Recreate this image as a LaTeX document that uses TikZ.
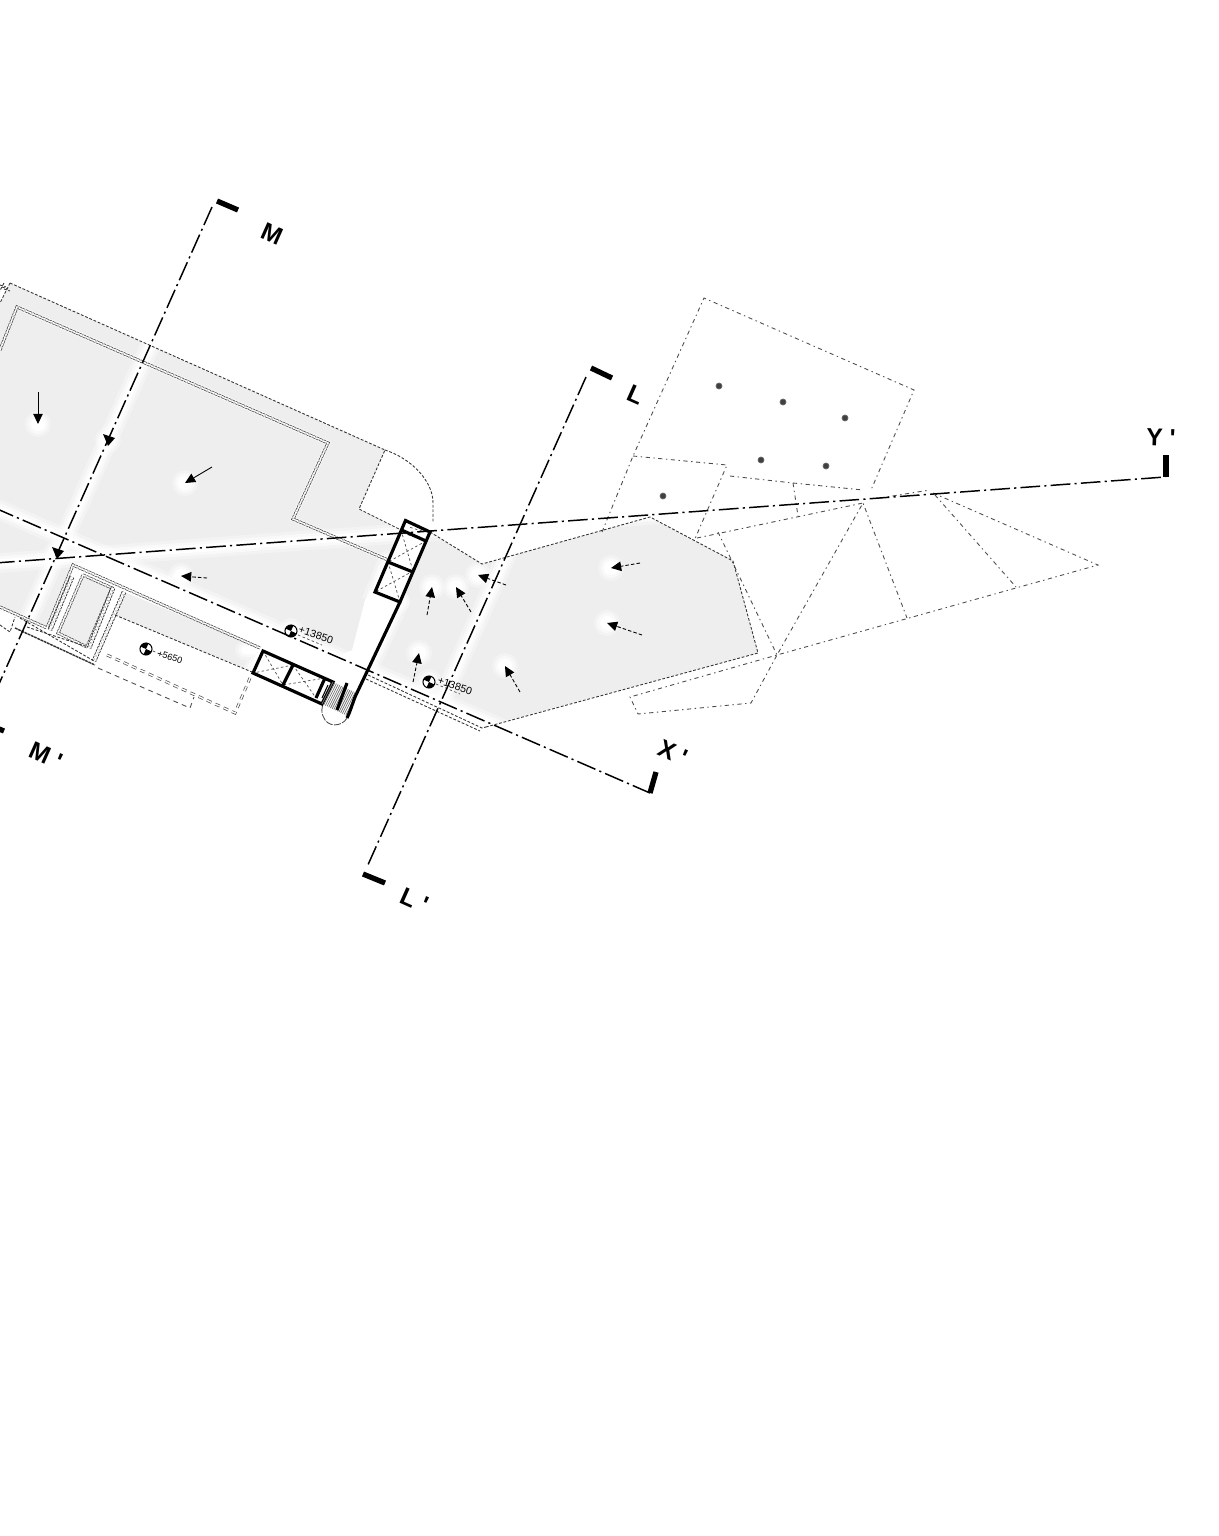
\documentclass[tikz,border=0pt]{standalone}
\usepackage{fontspec}
\setmainfont{Liberation Sans}
\usetikzlibrary{arrows.meta}
\definecolor{floorgrey}{HTML}{EEEEEE}
\tikzset{
    sectionline/.style={line width=.42pt, dash pattern=on 5.6pt off 1.2pt on .6pt off 1.2pt},
    sectionbar/.style={line width=1.5pt},
    sectionlabel/.style={font=\fontsize{7}{8}\selectfont\bfseries, inner sep=0pt, rotate=-24},
    outline/.style={draw=black!80, line width=.25pt, dash pattern=on .8pt off .5pt},
    dashedge/.style={draw=black!70, line width=.25pt, dash pattern=on 1.2pt off 1pt on .4pt off 1pt},
    wall/.style={draw=black!75, line width=.2pt, double=white, double distance=.45pt, dash pattern=on .8pt off .25pt},
    hatchwall/.style={draw=black!80, line width=.25pt, double=white, double distance=.8pt, dash pattern=on .7pt off .3pt},
    heavywall/.style={line width=.9pt, line join=miter},
    cellcross/.style={draw=black!70, line width=.2pt, dash pattern=on .7pt off .7pt},
    flowarrow/.style={line width=.25pt, dash pattern=on 1pt off .6pt, -{Triangle[length=2.9pt,width=2.7pt,sep=0pt]}},
    solidarrow/.style={line width=.25pt, -{Triangle[length=2.9pt,width=2.7pt,sep=0pt]}},
    levellabel/.style={font=\fontsize{3}{3.5}\selectfont, inner sep=0pt, rotate=-18},
    column/.style={fill=black!75, draw=black!60, line width=.2pt}
}
\newcommand{\glowline}[1]{
    \foreach \w/\o in {5.6/.35,3.8/.55,2.2/1} {\draw[white, line width=\w pt, line cap=round, opacity=\o] #1;}
}
\newcommand{\glowspot}[2]{
    \foreach \r/\o in {13/.3,10/.55,7/1} {\fill[white, opacity=\o] (#1,#2) circle[radius=\r];}
}
\newcommand{\levelmark}[2]{
    \begin{scope}[shift={(#1,#2)}, rotate=-24]
        \fill[white] (0,0) circle[radius=6.5];
        \draw[line width=.3pt] (0,0) circle[radius=6];
        \fill (0,0) -- (6,0) arc[start angle=0, end angle=90, radius=6] -- cycle;
        \fill (0,0) -- (-6,0) arc[start angle=180, end angle=270, radius=6] -- cycle;
    \end{scope}
}
\begin{document}
\begin{tikzpicture}[x=.01cm, y=-.01cm]
    \useasboundingbox (0,0) rectangle (1219,1536);
    \clip (0,0) rectangle (1219,1536);

    % grey floors
    \fill[floorgrey] (-5,312) -- (10,283) -- (385,450) -- (359,509) -- (405,532) -- (388,560) -- (365,600) -- (352,650) -- (340,655)
        -- (103,555) -- (72,565) -- (47,628) -- (-5,605) -- cycle;
    \fill[floorgrey] (124,592) -- (260,648) -- (252,672) -- (115,615) -- cycle;
    \fill[floorgrey] (83,575) -- (112,588) -- (87,647) -- (58,633) -- cycle;
    \fill[floorgrey] (430,533) -- (482,564) -- (650,517) -- (733,561) -- (758,653) -- (490,725) -- (368,675) -- (400,601) -- cycle;

    % soft edges
    \glowline{(215,200) -- (-20,727)}
    \glowline{(590,368) -- (365,873)}
    \glowline{(0,510) -- (650,793)}
    \glowline{(0,563) -- (1165,477)}
    \glowline{(400,601) -- (355,697)}
    \glowline{(388,560) -- (375,592) -- (400,602)}
    \glowline{(245,650) -- (262,651) -- (252,673)}
    \draw[white, line width=1.4pt, opacity=.6] (17,307) -- (328,443) -- (293,519) -- (388,560);
    \draw[white, line width=1.4pt, opacity=.6] (124,592) -- (94,661);
    \foreach \a/\b in {38/424, 108/440, 57/553, 185/483, 181/576, 291/631, 429/682, 432/587, 456/587, 478/575, 419/653, 505/666, 611/568, 607/623} {\glowspot{\a}{\b}}

    % outline of the block
    \coordinate (topA) at (10,283);
    \coordinate (topB) at (385,450);
    \coordinate (curveEnd) at (433,503);
    \coordinate (backA) at (359,509);
    \coordinate (boxNW) at (405.5,520.5);
    \coordinate (boxNE) at (430,532);
    \coordinate (boxSE) at (400,602);
    \coordinate (boxSW) at (375,592);
    \draw[outline] (topA) -- (topB) -- (backA) -- (405,532);
    \draw[outline] (topB) .. controls (410,458) and (433,480) .. (curveEnd) -- (433,523);
    \draw[outline] (topA) -- (0,303);
    \draw[outline] (4,283) -- (-5,300);
    \foreach \i in {0,2,4} {\draw[outline] (\i,285+\i) -- (\i+6,287+\i);}

    % walls
    \draw[wall] (0,350) -- (17,307) -- (328,443) -- (293,519) -- (388,560);
    \draw[wall] (0,607) -- (47,628) -- (73,565) -- (260,648);
    \draw[wall] (83,575) -- (112,588) -- (87,647) -- (58,633) -- cycle;
    \draw[hatchwall] (124,592) -- (94,661);
    \draw[hatchwall] (113,588) -- (89,648);
    \draw[hatchwall] (72,577) -- (50,630);
    \draw[outline] (115,615) -- (252,672);

    % lower left leftovers
    \draw[outline] (0,625) -- (10,632) -- (15,617);
    \draw[line width=.4pt, draw=black!80, dash pattern=on .8pt off .2pt] (15,628) -- (95,665);
    \draw[outline] (27,627) -- (88,647);
    \draw[outline] (20,618) -- (94,661);
    \draw[dashedge, dash pattern=on 1.4pt off 1.2pt, double=white, double distance=.4pt, line width=.2pt] (107,655) -- (235,713) -- (250,678);
    \draw[dashedge, dash pattern=on 1.4pt off 1.2pt] (98,668) -- (183,705) -- (190,708) -- (194,697);

    % right floor edge
    \coordinate (eastA) at (482,564);
    \coordinate (eastB) at (650,517);
    \coordinate (eastC) at (733,561);
    \coordinate (eastD) at (758,653);
    \coordinate (eastE) at (486,727);
    \draw[outline] (boxNE) -- (eastA) -- (eastB) -- (eastC) -- (eastD) -- (eastE);
    \draw[outline] (368,675) -- (482,728) -- (eastE);
    \draw[outline] (366,679) -- (480,731);

    % canopy outlines
    \coordinate (canA) at (704,298);
    \coordinate (canB) at (914,390);
    \coordinate (canC) at (871,490);
    \coordinate (canD) at (633,456);
    \coordinate (canE) at (602,532);
    \coordinate (canF) at (727,465);
    \coordinate (canG) at (694,541);
    \coordinate (pivot) at (863,503);
    \coordinate (foot) at (777,655);
    \coordinate (tip) at (1098,565);
    \draw[dashedge] (canE) -- (canD) -- (canA) -- (canB) -- (canC);
    \draw[dashedge] (canD) -- (canF) -- (canG);
    \draw[dashedge] (730,476) -- (793,483) -- (863,490);
    \draw[dashedge] (793,483) -- (798,516);
    \draw[dashedge] (697,538) -- (pivot);
    \draw[dashedge] (718,532) -- (foot) -- (pivot) -- (907,618);
    \draw[dashedge] (880,498) -- (930,490);
    \draw[dashedge] (935,495) -- (1016,587);
    \draw[dashedge] (933,493) -- (tip) -- (foot) -- (630,697) -- (638,714) -- (751,703) -- (foot);

    % columns
    \foreach \a/\b in {719/386, 783/402, 845/418, 761/460, 826/466, 663/496} {\fill[column] (\a,\b) circle[radius=3];}

    % lift boxes
    \draw[cellcross] (403,533) -- (426,541) (422,531) -- (409,527);
    \draw[cellcross] (401,530) -- (413,571) (426,541) -- (388,562);
    \draw[cellcross] (388,562) -- (400,602) (413,571) -- (375,592);
    \draw[heavywall] (boxNW) -- (boxNE) -- (boxSE) -- (boxSW) -- cycle;
    \draw[heavywall] (401.5,530) -- (426,541);
    \draw[heavywall] (388,562) -- (413,572);
    \draw[cellcross] (263,651) -- (283,685) (293,665) -- (253,673);
    \draw[cellcross] (293,665) -- (316,698) (325,678) -- (283,685);
    \draw[line width=.3pt] (322,698) -- (328,685);
    \draw[heavywall] (263,651) -- (333,682) -- (322,704) -- (253,673) -- cycle;
    \draw[heavywall] (293,665) -- (283,685);
    \draw[heavywall] (325,678) -- (316,698);

    % stairs
    \foreach \i in {0,...,14} {\draw[black!55, line width=.2pt] (333+1.7*\i,682+.8*\i) -- (322+1.7*\i,704+.8*\i);}
    \draw[line width=.9pt] (347,683) -- (337,710);
    \draw[heavywall] (boxSE) -- (355,697) .. controls (352,705) and (350,712) .. (347,718);
    \draw[dashedge, dash pattern=on 2pt off .4pt] (347,718) .. controls (342,727) and (327,728) .. (323,716) .. controls (321,712) and (322,707) .. (323,705);

    % flow arrows
    \draw[solidarrow] (38,392) -- (38,424);
    \draw[solidarrow] (212,467) -- (185,483);
    \draw[flowarrow] (207,578) -- (181,576);
    \draw[flowarrow] (427,615) -- (432,587);
    \draw[flowarrow] (471,612) -- (456,587);
    \draw[flowarrow] (506,585) -- (478,575);
    \draw[flowarrow] (413,682) -- (419,653);
    \draw[flowarrow] (520,692) -- (505,666);
    \draw[flowarrow] (640,563) -- (611,568);
    \draw[flowarrow] (642,635) -- (607,623);

    % levels
    \levelmark{291}{631}
    \levelmark{429}{682}
    \levelmark{146}{649}
    \draw[cellcross] (298,635) -- (322,645);
    \draw[cellcross] (436,684) -- (460,694);
    \draw[cellcross] (153,651) -- (160,654);
    \node[levellabel] (levelA) at (316,635) {+13850};
    \node[levellabel] (levelB) at (455,686) {+13850};
    \node[levellabel, font=\fontsize{2.6}{3}\selectfont] (levelC) at (170,657) {+5650};

    % section lines
    \coordinate (Mtop) at (212,207);
    \coordinate (Mbot) at (-18,722);
    \coordinate (Ltop) at (586,377);
    \coordinate (Lbot) at (367,867);
    \coordinate (Xleft) at (-5,508);
    \coordinate (Xright) at (650,793);
    \coordinate (Yleft) at (-5,563);
    \coordinate (Yright) at (1165,477);
    \draw[sectionline] (Mtop) -- (Mbot);
    \draw[sectionline] (Ltop) -- (Lbot);
    \draw[sectionline] (Xleft) -- (Xright);
    \draw[sectionline] (Yleft) -- (Yright);
    \draw[sectionbar] (217,201) -- (238,210);
    \draw[sectionbar] (-18,722) -- (4,731);
    \draw[sectionbar] (591,368) -- (612,378);
    \draw[sectionbar] (363,874) -- (385,883);
    \draw[sectionbar] (Xright) -- (656,772);
    \draw[sectionbar] (1166,477) -- (1166,455);
    \fill (108,446) -- (103,434) -- (115,438) -- cycle;
    \fill (57,559) -- (52,547) -- (64,551) -- cycle;

    % section names
    \node[sectionlabel] (labelM) at (272,234) {M};
    \node[sectionlabel] (labelMp) at (46,756) {M \textquotesingle};
    \node[sectionlabel] (labelL) at (636,395) {L};
    \node[sectionlabel] (labelLp) at (415,900) {L \textquotesingle};
    \node[sectionlabel] (labelXp) at (673,753) {X \textquotesingle};
    \node[sectionlabel, rotate=22] (labelYp) at (1161,438) {Y \textquotesingle};
\end{tikzpicture}
\end{document}
